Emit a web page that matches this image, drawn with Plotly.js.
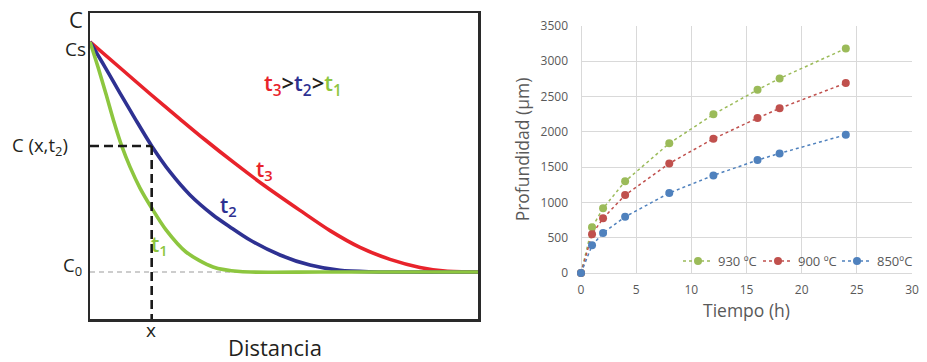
<!DOCTYPE html>
<html>
<head>
<meta charset="utf-8">
<script src="https://cdn.plot.ly/plotly-3.0.1.min.js"></script>
<style>html,body{margin:0;padding:0;background:#fff;}#chart{width:927px;height:362px;}</style>
</head>
<body>
<div id="chart"></div>
<script>
// ---------- Left panel: concentration profiles (schematic) ----------
// distance in % of box width, concentration normalized: C0 = 0, Cs = 1
const t1Dist = [0, 2.06, 4.12, 6.19, 8.17, 10.31, 12.89, 15.90, 19.59, 24.74, 31.70, 38.66, 60, 100];
const t1Conc = [1, 0.891, 0.774, 0.652, 0.548, 0.457, 0.365, 0.278, 0.183, 0.087, 0.022, 0.002, 0, 0];

const t2Dist = [0, 3.87, 7.73, 11.60, 15.90, 20.62, 25.77, 31.70, 36.08, 41.24, 48.97, 56.70, 64.43, 72.16, 100];
const t2Conc = [1, 0.891, 0.778, 0.667, 0.548, 0.435, 0.335, 0.248, 0.196, 0.139, 0.074, 0.030, 0.007, 0.001, 0];

const t3Dist = [0, 7.73, 15.46, 23.20, 29.64, 37.37, 45.10, 54.12, 61.86, 69.59, 77.32, 85.05, 91.49, 100];
const t3Conc = [1, 0.888, 0.775, 0.665, 0.575, 0.472, 0.374, 0.268, 0.180, 0.107, 0.055, 0.020, 0.004, 0];

const xMark = 15.9;   // "x" position
const cMark = 0.548;  // C(x,t2)

// ---------- Right panel: depth vs time ----------
const tiempo = [0, 1, 2, 4, 8, 12, 16, 18, 24];
const prof930 = [0, 647, 916, 1299, 1837, 2248, 2596, 2757, 3182];
const prof900 = [0, 548, 775, 1105, 1553, 1902, 2195, 2333, 2691];
const prof850 = [0, 392, 566, 797, 1133, 1383, 1600, 1695, 1959];
const seriesNames = ['930 ºC', '900 ºC', '850ºC'];
const xTicks = [0, 5, 10, 15, 20, 25, 30];
const yTicks = [0, 500, 1000, 1500, 2000, 2500, 3000, 3500];

const W = 927, H = 362;
const px = v => v / W;
const py = v => 1 - v / H;

const RED = '#e8232b', NAVY = '#2e3192', LIME = '#8dc63f';
const XL_G = '#9bbb59', XL_R = '#c0504d', XL_B = '#4f81bd';
const FONT = 'Open Sans, Noto Sans, sans-serif';
const GREY = '#595959';

const curveLine = c => ({color: c, width: 3.6, shape: 'spline', smoothing: 0.8});

const traces = [
  {x: t3Dist, y: t3Conc, type: 'scatter', mode: 'lines', line: curveLine(RED), xaxis: 'x', yaxis: 'y', showlegend: false, hoverinfo: 'skip'},
  {x: t2Dist, y: t2Conc, type: 'scatter', mode: 'lines', line: curveLine(NAVY), xaxis: 'x', yaxis: 'y', showlegend: false, hoverinfo: 'skip'},
  {x: t1Dist, y: t1Conc, type: 'scatter', mode: 'lines', line: curveLine(LIME), xaxis: 'x', yaxis: 'y', showlegend: false, hoverinfo: 'skip'},
  {x: tiempo, y: prof930, name: seriesNames[0], legend: 'legend', type: 'scatter', mode: 'lines+markers', xaxis: 'x2', yaxis: 'y2',
   line: {color: XL_G, width: 1.5, dash: 'dot'}, marker: {color: XL_G, size: 8}, cliponaxis: false},
  {x: tiempo, y: prof900, name: seriesNames[1], legend: 'legend2', type: 'scatter', mode: 'lines+markers', xaxis: 'x2', yaxis: 'y2',
   line: {color: XL_R, width: 1.5, dash: 'dot'}, marker: {color: XL_R, size: 8}, cliponaxis: false},
  {x: tiempo, y: prof850, name: seriesNames[2], legend: 'legend3', type: 'scatter', mode: 'lines+markers', xaxis: 'x2', yaxis: 'y2',
   line: {color: XL_B, width: 1.5, dash: 'dot'}, marker: {color: XL_B, size: 8}, cliponaxis: false}
];

const ann = (text, x, y, size, color, weight) => ({
  text: text, xref: 'paper', yref: 'paper', x: px(x), y: py(y), xanchor: 'center', yanchor: 'middle',
  showarrow: false, font: {family: FONT, size: size, color: color || '#231f20', weight: weight || 400}
});

const legendAt = x => ({orientation: 'h', x: px(x), xanchor: 'left', y: py(261), yanchor: 'middle',
  bgcolor: 'rgba(255,255,255,0)', borderwidth: 0, font: {family: FONT, size: 13, color: GREY}, itemwidth: 30});

const layout = {
  width: W, height: H,
  margin: {l: 0, r: 0, t: 0, b: 0},
  paper_bgcolor: '#fff', plot_bgcolor: 'rgba(0,0,0,0)',
  font: {family: FONT},
  showlegend: true,
  xaxis: {domain: [px(90), px(478)], range: [0, 100], showticklabels: false, showgrid: false, zeroline: false,
          showline: true, mirror: true, linecolor: '#2a2a2a', linewidth: 2.5, ticks: '', fixedrange: true},
  yaxis: {domain: [py(319), py(13)], range: [-0.2043, 1.126], showticklabels: false, showgrid: false, zeroline: false,
          showline: true, mirror: true, linecolor: '#2a2a2a', linewidth: 2.5, ticks: '', fixedrange: true},
  xaxis2: {domain: [px(581), px(912)], range: [0, 30], anchor: 'y2', tickvals: xTicks, ticktext: xTicks.map(String),
           showgrid: true, gridcolor: '#d9d9d9', gridwidth: 1, zeroline: true, zerolinecolor: '#d9d9d9', zerolinewidth: 1,
           showline: false, ticks: '', ticklabelstandoff: 8,
           tickfont: {family: FONT, size: 12, color: GREY},
           title: {text: 'Tiempo (h)', font: {family: FONT, size: 17.5, color: GREY}, standoff: 1}},
  yaxis2: {domain: [py(273), py(26)], range: [0, 3500], anchor: 'x2', tickvals: yTicks, ticktext: yTicks.map(String),
           showgrid: true, gridcolor: '#d9d9d9', gridwidth: 1, zeroline: true, zerolinecolor: '#d9d9d9', zerolinewidth: 1,
           showline: false, ticks: '', ticklabelstandoff: 12,
           tickfont: {family: FONT, size: 12, color: GREY},
           title: {text: 'Profundidad (µm)', font: {family: FONT, size: 17.5, color: GREY}, standoff: 6}},
  legend: legendAt(678),
  legend2: legendAt(758),
  legend3: legendAt(837),
  shapes: [
    {type: 'line', xref: 'x', yref: 'y', x0: 0, x1: 100, y0: 0, y1: 0, layer: 'below',
     line: {color: '#bdbdbd', width: 1.3, dash: '5px,4px'}},
    {type: 'line', xref: 'x', yref: 'y', x0: 0, x1: xMark, y0: cMark, y1: cMark,
     line: {color: '#1a1a1a', width: 2.6, dash: '9px,5px'}},
    {type: 'line', xref: 'x', yref: 'y', x0: xMark, x1: xMark, y0: cMark, y1: -0.2043,
     line: {color: '#1a1a1a', width: 2.6, dash: '9px,5px'}}
  ],
  annotations: [
    ann('C', 76, 19, 22),
    ann('Cs', 75, 49, 19),
    ann('C (x,t<sub>2</sub>)', 40, 146, 18.5),
    ann('C<sub>0</sub>', 72, 266, 18.5),
    ann('x', 151, 330, 19),
    ann('Distancia', 275, 347, 22),
    ann('<span style="color:' + RED + '">t<sub>3</sub></span>&gt;<span style="color:' + NAVY + '">t<sub>2</sub></span>&gt;<span style="color:' + LIME + '">t<sub>1</sub></span>', 303, 84, 22, '#231f20', 600),
    ann('t<sub>3</sub>', 264, 170, 21, RED, 600),
    ann('t<sub>2</sub>', 228, 206, 21, NAVY, 600),
    ann('t<sub>1</sub>', 159, 245, 21, LIME, 600)
  ]
};

Plotly.newPlot('chart', traces, layout, {staticPlot: true, displayModeBar: false});
</script>
</body>
</html>
